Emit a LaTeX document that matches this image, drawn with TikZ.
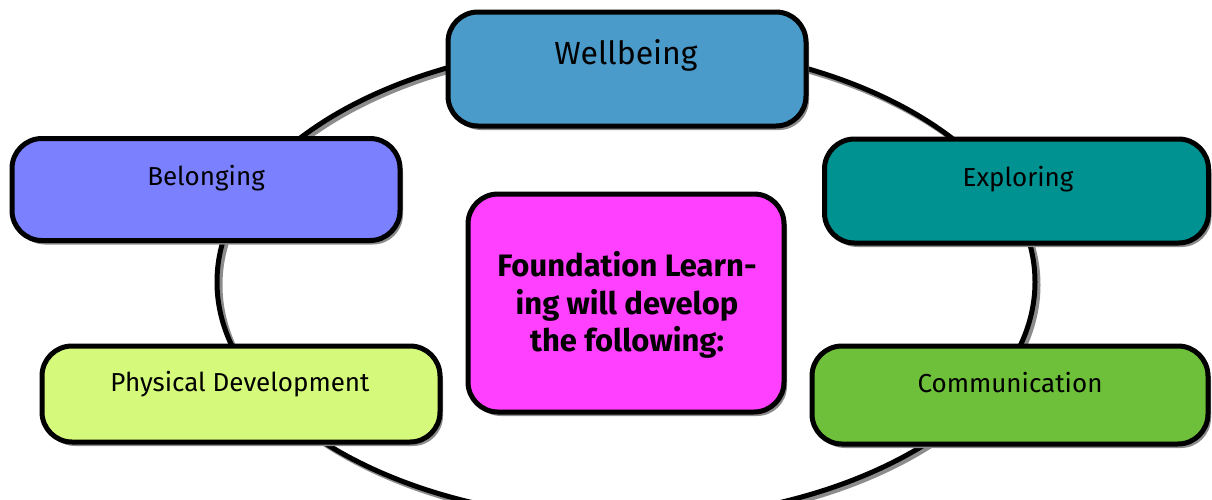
\documentclass[tikz,border=0pt]{standalone}
\usepackage{xcolor}
\usepackage{fontspec}
\setmainfont{Fira Sans}
\usepackage{tikz}
\usetikzlibrary{shadows}

\definecolor{wellblue}{HTML}{4A9BCA}
\definecolor{belongblue}{HTML}{7B80FF}
\definecolor{exploreteal}{HTML}{009191}
\definecolor{physlime}{HTML}{D5FA7B}
\definecolor{commgreen}{HTML}{6EBF3A}
\definecolor{foundpink}{HTML}{FF40FF}

\tikzset{
	topic/.style={draw=black, line width=2.5pt, rounded corners=15pt,
		drop shadow={shadow xshift=1.5pt, shadow yshift=-2pt, opacity=1, fill=black!45}},
	topictext/.style={font=\fontsize{13}{15}\selectfont, inner sep=0pt}
}

\begin{document}
\begin{tikzpicture}[x=0.5pt,y=-0.5pt]
	\clip (0,0) rectangle (1212,499);
	\draw[black!45, line width=2.5pt] (629,285) ellipse [x radius=204.5pt, y radius=119pt];
	\draw[line width=2.5pt] (626,282) ellipse [x radius=204.5pt, y radius=119pt];
	
	\node[topic, fill=wellblue, minimum width=179pt, minimum height=57pt] (wellbeing) at (627,69) {};
	\node[topic, fill=belongblue, minimum width=194pt, minimum height=51pt] (belonging) at (206,189.5) {};
	\node[topic, fill=exploreteal, minimum width=192pt, minimum height=52pt] (exploring) at (1016.5,191) {};
	\node[topic, fill=physlime, minimum width=199pt, minimum height=48pt] (physical) at (241,394) {};
	\node[topic, fill=commgreen, minimum width=198pt, minimum height=49pt] (communication) at (1010,395) {};
	\node[topic, fill=foundpink, minimum width=158pt, minimum height=109pt] (foundation) at (626,303) {};
	
	\node[topictext, font=\fontsize{16}{18}\selectfont] (wellbeingtext) at (626,55) {Wellbeing};
	\node[topictext] (belongingtext) at (206,178) {Belonging};
	\node[topictext] (exploringtext) at (1018,179) {Exploring};
	\node[topictext] (physicaltext) at (240,384) {Physical Development};
	\node[topictext] (communicationtext) at (1010,383) {Communication};
	\node[topictext, font=\bfseries\fontsize{15.5}{18.75}\selectfont, align=center] (foundationtext) at (627,305)
		{Foundation Learn-\\ing will develop\\the following:};
\end{tikzpicture}
\end{document}
